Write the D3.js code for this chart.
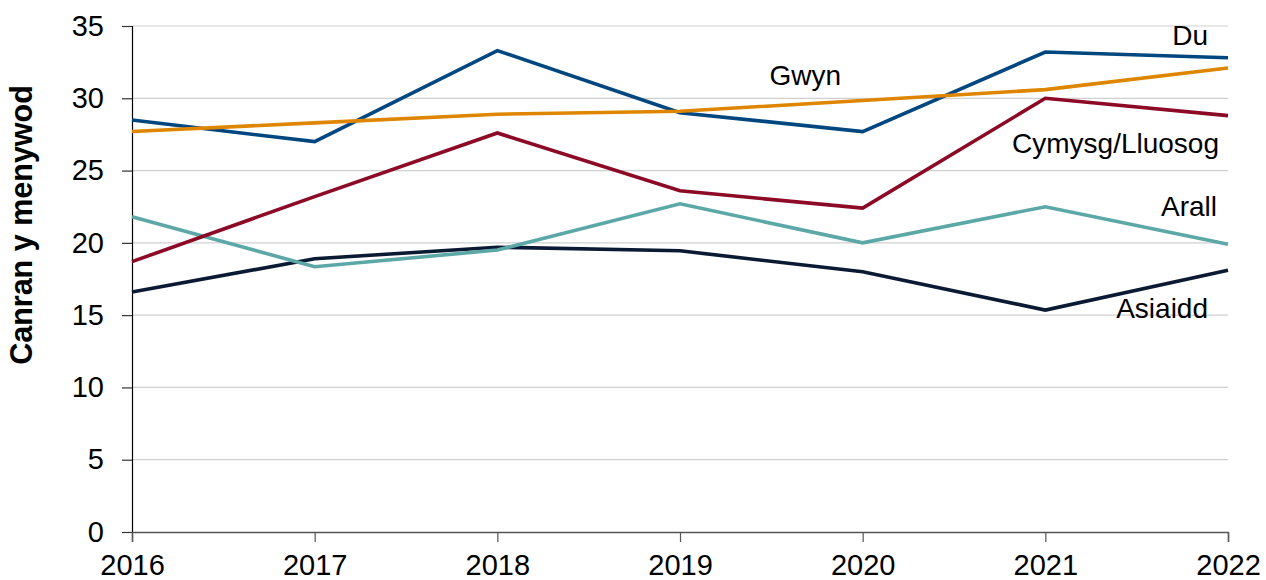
<!DOCTYPE html>
<html>
<head>
<meta charset="utf-8">
<script src="https://cdn.jsdelivr.net/npm/d3@7"></script>
<style>
  html, body { margin: 0; padding: 0; background: #fff; }
  svg { display: block; font-family: "Liberation Sans", Arial, sans-serif; }
</style>
</head>
<body>
<svg id="chart" width="1266" height="580"></svg>
<script>
const years = [2016, 2017, 2018, 2019, 2020, 2021, 2022];
const yTicks = [0, 5, 10, 15, 20, 25, 30, 35];
const seriesNames = ["Asiaidd", "Du", "Arall", "Cymysg/Lluosog", "Gwyn"];
const asiaidd = [16.6, 18.9, 19.7, 19.45, 18.0, 15.35, 18.1];
const du = [28.5, 27.0, 33.3, 29.0, 27.7, 33.2, 32.8];
const arall = [21.8, 18.35, 19.5, 22.7, 20.0, 22.5, 19.9];
const cymysg = [18.7, 23.2, 27.6, 23.6, 22.4, 30.0, 28.8];
const gwyn = [27.7, 28.3, 28.9, 29.1, 29.85, 30.6, 32.1];
const yTitle = "Canran y menywod";

(function () {
const seriesValues = [asiaidd, du, arall, cymysg, gwyn];
const colors = ["#0b1a33", "#00467f", "#5ba8a6", "#8c0a26", "#de8600"];
const labelPos = {
  "Du": {x: 1208, y: 45},
  "Gwyn": {x: 841, y: 85},
  "Cymysg/Lluosog": {x: 1219, y: 153},
  "Arall": {x: 1217, y: 216},
  "Asiaidd": {x: 1208, y: 318}
};

const svg = d3.select("#chart");
const mLeft = 132, mRight = 1228, mTop = 26, mBottom = 532;

const x = d3.scalePoint().domain(years).range([mLeft, mRight]);
const y = d3.scaleLinear().domain([0, 35]).range([mBottom, mTop]);

// gridlines
svg.append("g")
  .selectAll("line")
  .data(yTicks.filter(d => d > 0))
  .join("line")
  .attr("x1", mLeft).attr("x2", mRight)
  .attr("y1", d => y(d)).attr("y2", d => y(d))
  .attr("stroke", "#d0d0d0").attr("stroke-width", 1.2);

// y axis
const yAxis = svg.append("g")
  .attr("transform", `translate(${mLeft},0)`)
  .call(d3.axisLeft(y).tickValues(yTicks).tickSize(10).tickPadding(18).tickFormat(d3.format("d")));
yAxis.select(".domain").attr("stroke", "#000").attr("stroke-width", 1.2);
yAxis.selectAll(".tick line").attr("stroke", "#333").attr("stroke-width", 1.2);
yAxis.selectAll("text").attr("font-size", 29).attr("fill", "#000")
  .attr("font-family", "'Liberation Sans', Arial, sans-serif");

// x axis
const xAxis = svg.append("g")
  .attr("transform", `translate(0,${mBottom})`)
  .call(d3.axisBottom(x).tickSize(10).tickPadding(12).tickFormat(d3.format("d")));
xAxis.select(".domain").attr("stroke", "#555").attr("stroke-width", 1.5);
xAxis.selectAll(".tick line").attr("stroke", "#555").attr("stroke-width", 1.2);
xAxis.selectAll("text").attr("font-size", 29).attr("fill", "#000")
  .attr("font-family", "'Liberation Sans', Arial, sans-serif");

// y axis title
svg.append("text")
  .attr("transform", `translate(32,${(85 + 365) / 2}) rotate(-90)`)
  .attr("text-anchor", "middle")
  .attr("font-size", 30.5)
  .attr("font-weight", "bold")
  .attr("fill", "#000")
  .text(yTitle);

// lines
const line = d3.line().x((d, i) => x(years[i])).y(d => y(d));
svg.append("g")
  .selectAll("path")
  .data(seriesValues)
  .join("path")
  .attr("d", d => line(d))
  .attr("fill", "none")
  .attr("stroke", (d, i) => colors[i])
  .attr("stroke-width", 3.6)
  .attr("stroke-linejoin", "miter");

// labels
svg.append("g")
  .selectAll("text")
  .data(seriesNames)
  .join("text")
  .attr("x", d => labelPos[d].x)
  .attr("y", d => labelPos[d].y)
  .attr("text-anchor", "end")
  .attr("font-size", 28)
  .attr("fill", "#000")
  .text(d => d);
})();
</script>
</body>
</html>
